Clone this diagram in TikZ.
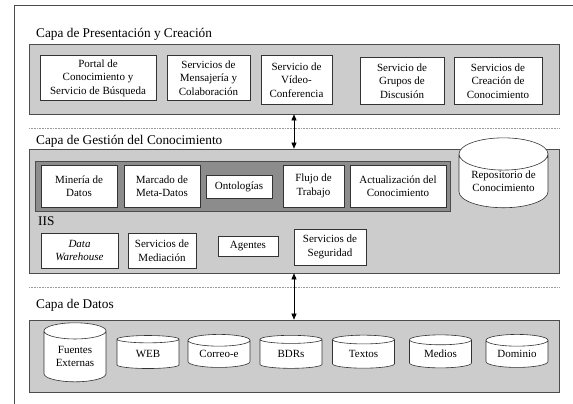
\documentclass[tikz,border=0pt]{standalone}
\usepackage{fontspec}
\setmainfont{Liberation Serif}
\usetikzlibrary{shapes.geometric,arrows.meta}

\begin{document}
\begin{tikzpicture}[x=1pt,y=-1pt,
  capa/.style={draw=black!70,line width=0.7pt,fill=black!20,minimum width=530,inner sep=0pt},
  caja/.style={draw=black!80,line width=0.6pt,fill=white,align=center,inner sep=1pt,
    font=\fontsize{11}{13.5}\selectfont},
  cilindro/.style={cylinder,shape border rotate=90,draw=black!80,line width=0.6pt,fill=white,
    align=center,inner sep=0pt,font=\fontsize{11}{13.5}\selectfont},
  titulo/.style={anchor=west,inner sep=0pt,font=\fontsize{13.3}{16}\selectfont},
  flecha/.style={{Triangle[length=6pt,width=5pt]}-{Triangle[length=6pt,width=5pt]},line width=0.6pt},
  separa/.style={black!40,densely dotted,line width=0.6pt}]

\useasboundingbox (0,0) rectangle (573,404);
\draw[black!70,line width=0.8pt] (14,404) -- (14,5) -- (573,5);

% capa de presentacion
\node[titulo] (tpres) at (36,34) {Capa de Presentación y Creación};
\node[capa,minimum height=70] (pres) at (294,79) {};
\node[caja,minimum width=116,minimum height=45] (portal) at (98,78) {Portal de\\Conocimiento y\\Servicio de Búsqueda};
\node[caja,minimum width=83,minimum height=45] (mensa) at (208.5,78) {Servicios de\\Mensajería y\\Colaboración};
\node[caja,minimum width=71,minimum height=49] (video) at (296.5,80) {Servicio de\\Vídeo-\\Conferencia};
\node[caja,minimum width=84,minimum height=47] (grupos) at (402,81) {Servicio de\\Grupos de\\Discusión};
\node[caja,minimum width=88,minimum height=47] (creacion) at (498,81) {Servicios de\\Creación de\\Conocimiento};

\draw[separa] (29,128) -- (560,128);

% capa de gestion
\node[titulo] (tgest) at (36,141) {Capa de Gestión del Conocimiento};
\node[capa,minimum height=124] (gest) at (294,211) {};
\node[draw=black!70,line width=0.7pt,fill=black!45,minimum width=415,minimum height=50,inner sep=0pt] (herram) at (242.5,186) {};
\node[caja,minimum width=76,minimum height=42] (mineria) at (79,186) {Minería de\\Datos};
\node[caja,minimum width=76,minimum height=42] (marcado) at (162,186) {Marcado de\\Meta-Datos};
\node[caja,minimum width=66,minimum height=23] (ontol) at (239,186.5) {Ontologías};
\node[caja,minimum width=61,minimum height=42] (flujo) at (313.5,186) {Flujo de\\Trabajo};
\node[caja,minimum width=96,minimum height=42] (actual) at (398,186) {Actualización del\\Conocimiento};
\node[cilindro,minimum width=89,minimum height=55,aspect=0.5] (repo) at (503.5,181) {Repositorio de\\Conocimiento};

\node[titulo] (iis) at (38,221) {IIS};
\node[caja,minimum width=77,minimum height=35] (dw) at (79.5,250.5) {\itshape Data\\\itshape Warehouse};
\node[caja,minimum width=68,minimum height=35] (media) at (162,250.5) {Servicios de\\Mediación};
\node[caja,minimum width=60,minimum height=20] (agentes) at (248,246) {Agentes};
\node[caja,minimum width=72,minimum height=36] (segur) at (330,247) {Servicios de\\Seguridad};

\draw[separa] (29,287) -- (560,287);

% capa de datos
\node[titulo] (tdatos) at (36,305) {Capa de Datos};
\node[capa,minimum height=72] (datos) at (294,356) {};
\node[cilindro,minimum width=62,minimum height=59,aspect=0.42] (fuentes) at (75,356.5) {Fuentes\\Externas};
\node[cilindro,minimum width=62,minimum height=33,aspect=0.3] (web) at (148,354) {WEB};
\node[cilindro,minimum width=62,minimum height=33,aspect=0.3] (correo) at (219,354) {Correo-e};
\node[cilindro,minimum width=62,minimum height=33,aspect=0.3] (bdrs) at (291,354) {BDRs};
\node[cilindro,minimum width=62,minimum height=33,aspect=0.3] (textos) at (363.5,354) {Textos};
\node[cilindro,minimum width=62,minimum height=33,aspect=0.3] (medios) at (440.5,354) {Medios};
\node[cilindro,minimum width=62,minimum height=33,aspect=0.3] (dominio) at (517,354) {Dominio};

\coordinate (eje) at (294,0);
\draw[flecha] (pres.south -| eje) -- (gest.north -| eje);
\draw[flecha] (gest.south -| eje) -- (datos.north -| eje);

\end{tikzpicture}
\end{document}
